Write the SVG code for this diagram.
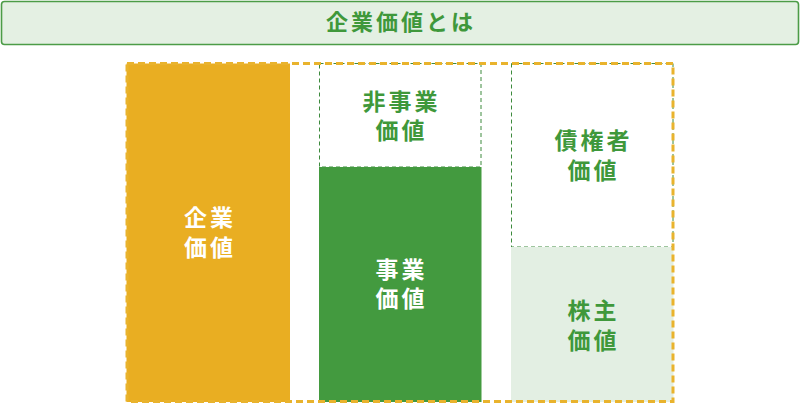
<svg xmlns="http://www.w3.org/2000/svg" width="800" height="404" viewBox="0 0 800 404">
<style>
.t{font-family:"Noto Sans CJK JP","Noto Sans CJK SC",sans-serif;font-weight:700;font-size:23px;letter-spacing:3px;text-anchor:middle}
.g{fill:#3f983b}
.w{fill:#ffffff}
.gd{fill:none;stroke:#3d8a3d;stroke-width:1;stroke-dasharray:4 3}
</style>
<rect width="800" height="404" fill="#ffffff"/>
<g id="title">
<rect x="1.5" y="1.5" width="797" height="43" rx="3" fill="#e4f0e3" stroke="#4c9c47" stroke-width="1.6"/>
<text class="t g" x="401" y="30" style="font-size:22px">企業価値とは</text>
</g>
<g id="enterprise-value">
<rect x="126.5" y="63.5" width="163.5" height="338.5" fill="#e9ae22"/>
<text class="t w" x="210" y="225.5">企業</text>
<text class="t w" x="210" y="255.5">価値</text>
</g>
<g id="non-business-value">
<rect x="319.5" y="63.5" width="161.5" height="103.5" class="gd"/>
<text class="t g" x="401.5" y="109.5">非事業</text>
<text class="t g" x="401.5" y="138.5">価値</text>
</g>
<g id="business-value">
<rect x="319" y="167" width="162.5" height="235" fill="#439a3f"/>
<text class="t w" x="401.5" y="277.5">事業</text>
<text class="t w" x="401.5" y="306.5">価値</text>
</g>
<g id="creditor-value">
<rect x="511.5" y="63.5" width="161.5" height="183.5" class="gd"/>
<text class="t g" x="593.5" y="148.5">債権者</text>
<text class="t g" x="593.5" y="178.5">価値</text>
</g>
<g id="shareholder-value">
<rect x="511" y="247" width="162.5" height="155" fill="#e3efe3"/>
<text class="t g" x="593.5" y="318.5">株主</text>
<text class="t g" x="593.5" y="348.5">価値</text>
</g>
<g id="frame">
<rect x="127" y="63.5" width="546" height="338" fill="none" stroke="#e9b32d" stroke-width="3" stroke-dasharray="7 4"/>
</g>
</svg>
